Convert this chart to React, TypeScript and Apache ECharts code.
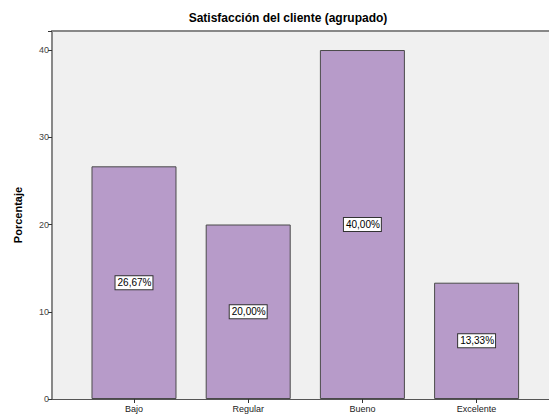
import React, { useEffect, useRef } from "react";
import * as echarts from "echarts";

const categories = ["Bajo", "Regular", "Bueno", "Excelente"];
const values = [26.67, 20.0, 40.0, 13.33];
const yTicks = [0, 10, 20, 30, 40];

const fmt = (v: number) => v.toFixed(2).replace(".", ",") + "%";

export default function App() {
  const ref = useRef<HTMLDivElement>(null);
  useEffect(() => {
    if (!ref.current) return;
    const chart = echarts.init(ref.current, undefined, { renderer: "svg" });
    const font = "'Liberation Sans', Arial, sans-serif";
    chart.setOption({
      animation: false,
      textStyle: { fontFamily: font },
      title: {
        text: "Satisfacción del cliente (agrupado)",
        left: 283,
        textAlign: "center",
        top: 7,
        textStyle: { fontSize: 12, fontWeight: "bold", color: "#000", fontFamily: font },
      },
      grid: {
        left: 52,
        right: 0,
        top: 31,
        bottom: 19,
        show: true,
        backgroundColor: "#f0f0f0",
        borderWidth: 0,
      },
      xAxis: [
        {
          type: "value",
          min: -0.718,
          max: 3.634,
          splitLine: { show: false },
          axisLine: { show: true, onZero: false, lineStyle: { color: "#555", width: 1 } },
          axisTick: {
            show: true,
            customValues: categories.map((_, i) => i),
            length: 4,
            lineStyle: { color: "#333" },
          },
          axisLabel: {
            show: true,
            customValues: categories.map((_, i) => i),
            formatter: (v: number) => categories[Math.round(v)] ?? "",
            fontSize: 9,
            color: "#222",
            margin: 5,
            fontFamily: font,
          },
        },
        {
          type: "value",
          position: "top",
          min: -0.718,
          max: 3.634,
          splitLine: { show: false },
          axisLine: { show: true, onZero: false, lineStyle: { color: "#888", width: 2 } },
          axisTick: { show: false },
          axisLabel: { show: false },
        },
      ],
      yAxis: {
        type: "value",
        min: 0,
        max: 42.18,
        interval: 10,
        name: "Porcentaje",
        nameLocation: "middle",
        nameGap: 29,
        nameTextStyle: { fontSize: 11, fontWeight: "bold", color: "#000", fontFamily: font },
        splitLine: { show: false },
        axisLine: { show: true, onZero: false, lineStyle: { color: "#888", width: 2 } },
        axisTick: { show: true, length: 4, lineStyle: { color: "#333" } },
        axisLabel: {
          fontSize: 9,
          color: "#444",
          margin: 3,
          fontFamily: font,
          formatter: (v: number) => (yTicks.includes(v) ? String(v) : ""),
        },
      },
      series: [
        {
          type: "bar",
          xAxisIndex: 0,
          barWidth: 85,
          data: values.map((v, i) => [i, v]),
          itemStyle: { color: "#b79bc9", borderColor: "#4a4a4a", borderWidth: 1 },
          label: {
            show: true,
            position: "inside",
            formatter: (p: any) => fmt(p.value[1]),
            fontSize: 10,
            color: "#000",
            backgroundColor: "#fff",
            borderColor: "#333",
            borderWidth: 1,
            padding: [2, 1, 1, 2],
            fontFamily: font,
          },
        },
      ],
    });
    return () => chart.dispose();
  }, []);
  return <div ref={ref} style={{ width: 549, height: 418, position: "absolute", left: 0, top: 0 }} />;
}
